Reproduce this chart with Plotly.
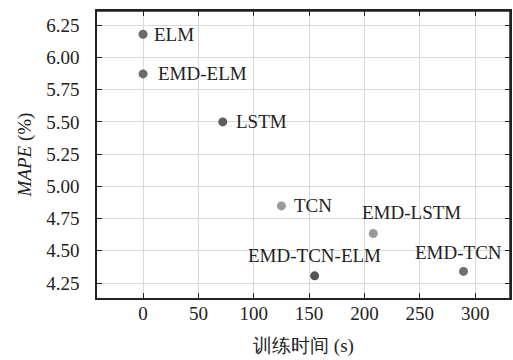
import plotly.graph_objects as go

models = ["ELM", "EMD-ELM", "LSTM", "TCN", "EMD-LSTM", "EMD-TCN-ELM", "EMD-TCN"]
train_time = [0, 0, 72, 125, 208, 155, 289.5]
mape = [6.18, 5.872, 5.50, 4.848, 4.634, 4.306, 4.34]
colors = ["#6b6b6b", "#6b6b6b", "#5e5e5e", "#9a9a9a", "#9a9a9a", "#555555", "#707070"]
x_ticks = [0, 50, 100, 150, 200, 250, 300]
y_ticks = [4.25, 4.50, 4.75, 5.00, 5.25, 5.50, 5.75, 6.00, 6.25]

# label placement (pixel offsets relative to each point)
label_anchor = ["left", "left", "left", "left", "center", "center", "center"]
label_dx = [9, 13, 11, 11, 38, 0, -5]
label_dy = [0, 0, 0, 0, 21, 20, 19]

FONT = "Liberation Serif"
TXT = "#222222"

fig = go.Figure()
fig.add_trace(go.Scatter(
    x=train_time, y=mape, mode="markers",
    marker=dict(size=9, color=colors),
    cliponaxis=False, showlegend=False, hoverinfo="text", text=models,
))

for m, xv, yv, anc, dx, dy in zip(models, train_time, mape, label_anchor, label_dx, label_dy):
    fig.add_annotation(
        x=xv, y=yv, text=m, showarrow=False,
        xanchor=anc, yanchor="middle", xshift=dx, yshift=dy,
        font=dict(family=FONT, size=19, color=TXT),
    )

axis_common = dict(
    showline=True, linecolor=TXT, linewidth=1.5, mirror="all",
    showgrid=True, gridcolor="#d9d9d9", gridwidth=1,
    ticks="inside", ticklen=5, tickcolor=TXT,
    zeroline=False, automargin=False,
    tickfont=dict(family=FONT, size=19, color=TXT),
)

fig.update_xaxes(
    range=[-41.6, 331.5], tickvals=x_ticks,
    ticktext=[str(v) for v in x_ticks],
    title=dict(text="训练时间 (s)", font=dict(family=FONT, size=19, color=TXT), standoff=16),
    ticklabelstandoff=-3,
    **axis_common,
)
fig.update_yaxes(
    range=[4.134, 6.36], tickvals=y_ticks,
    ticktext=[f"{v:.2f}" for v in y_ticks],
    title=dict(text="<i>MAPE</i> (%)", font=dict(family=FONT, size=19, color=TXT), standoff=10),
    ticklabelstandoff=12,
    **axis_common,
)

# frame around the plotting area (top and right edges, in paper coordinates)
fig.add_shape(type="line", xref="paper", yref="paper", x0=0, x1=1, y0=1, y1=1,
              line=dict(color=TXT, width=1.5), layer="above")
fig.add_shape(type="line", xref="paper", yref="paper", x0=1, x1=1, y0=0, y1=1,
              line=dict(color=TXT, width=1.5), layer="above")

fig.update_layout(
    width=513, height=360,
    margin=dict(l=97, r=3, t=11, b=62, autoexpand=False),
    plot_bgcolor="white", paper_bgcolor="white",
    font=dict(family=FONT, size=19, color=TXT),
)

fig.write_html("out.html", config={"displayModeBar": False},
               post_script="document.body.style.margin='0';document.body.style.overflow='hidden';")
